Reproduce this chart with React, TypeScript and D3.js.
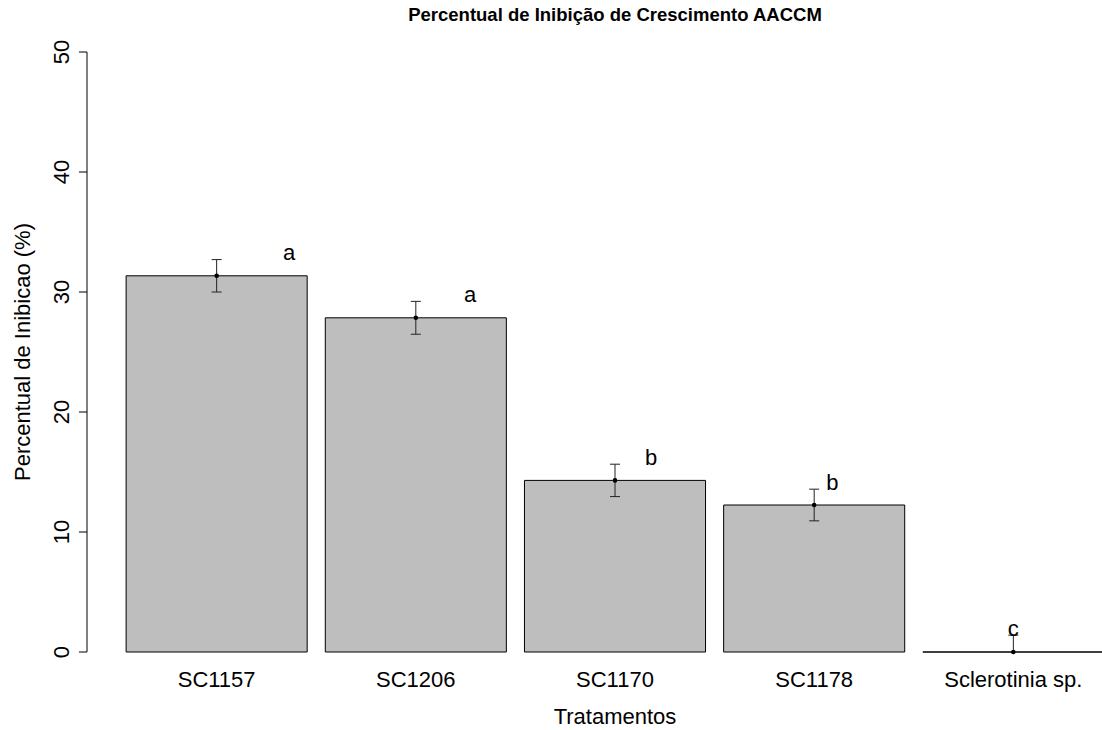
import React from "react";
import * as d3 from "d3";

// Treatments and their mean growth inhibition (%) with standard error
const treatments = ["SC1157", "SC1206", "SC1170", "SC1178", "Sclerotinia sp."];
const means = [31.35, 27.85, 14.3, 12.25, 0];
const errors = [1.35, 1.37, 1.35, 1.32, 1.4];
const groups = ["a", "a", "b", "b", "c"];
const yTicks = [0, 10, 20, 30, 40, 50];

const W = 1102;
const H = 730;
const FONT = "'Liberation Sans', Arial, Helvetica, sans-serif";

export default function App() {
  // Bar geometry in barplot units: width 1, space 0.1
  const barW = 1;
  const space = 0.1;
  const lefts = means.map((_, i) => space + i * (barW + space));
  const xMin = lefts[0];
  const xMax = lefts[lefts.length - 1] + barW;
  const pad = (xMax - xMin) * 0.04;

  const x = d3.scaleLinear().domain([xMin - pad, xMax + pad]).range([87, 1143]);
  const y = d3.scaleLinear().domain([0, 50]).range([652, 52]);

  const plotLeft = 87;
  const plotRight = 1143;
  const plotCx = (plotLeft + plotRight) / 2;

  const barPath = (i: number) => {
    const p = d3.path();
    const x0 = x(lefts[i]);
    const x1 = x(lefts[i] + barW);
    const y0 = y(0);
    const y1 = y(means[i]);
    p.moveTo(x0, y0);
    p.lineTo(x1, y0);
    p.lineTo(x1, y1);
    p.lineTo(x0, y1);
    p.closePath();
    return p.toString();
  };

  return (
    <svg
      width={W}
      height={H}
      style={{ position: "absolute", left: 0, top: 0, background: "#fff" }}
      fontFamily={FONT}
    >
      <defs>
        <clipPath id="plotclip">
          <rect x={plotLeft} y={y(50)} width={plotRight - plotLeft} height={y(0) - y(50)} />
        </clipPath>
      </defs>
      <rect x={0} y={0} width={W} height={H} fill="#fff" />

      <text x={plotCx} y={21} textAnchor="middle" fontSize={18.5} fontWeight="bold" fill="#000">
        Percentual de Inibição de Crescimento AACCM
      </text>

      {/* bars */}
      {means.map((m, i) => (
        <path key={"bar" + i} d={barPath(i)} fill="#bebebe" stroke="#000" strokeWidth={1} />
      ))}

      {/* error bars */}
      <g clipPath="url(#plotclip)">
        {means.map((m, i) => {
          const cx = x(lefts[i] + barW / 2);
          const top = y(m + errors[i]);
          const bot = y(m - errors[i]);
          return (
            <g key={"err" + i} stroke="#222" strokeWidth={1}>
              <line x1={cx} x2={cx} y1={top} y2={bot} />
              <line x1={cx - 5} x2={cx + 5} y1={top} y2={top} />
              <line x1={cx - 5} x2={cx + 5} y1={bot} y2={bot} />
            </g>
          );
        })}
      </g>
      {means.map((m, i) => (
        <circle key={"pt" + i} cx={x(lefts[i] + barW / 2)} cy={y(m)} r={2.3} fill="#000" />
      ))}

      {/* significance letters */}
      {groups.map((g, i) => (
        <text
          key={"lt" + i}
          x={x(i + 1)}
          y={y(means[i] + errors[i] + 0.6)}
          dy="0.35em"
          textAnchor="middle"
          fontSize={22}
          fill="#000"
        >
          {g}
        </text>
      ))}

      {/* y axis */}
      <line x1={plotLeft} x2={plotLeft} y1={y(0)} y2={y(50)} stroke="#000" />
      {yTicks.map((t) => (
        <g key={"yt" + t}>
          <line x1={plotLeft - 8} x2={plotLeft} y1={y(t)} y2={y(t)} stroke="#000" />
          <text
            transform={`translate(${plotLeft - 18},${y(t)}) rotate(-90)`}
            textAnchor="middle"
            fontSize={22}
            fill="#000"
          >
            {t}
          </text>
        </g>
      ))}

      {/* x labels */}
      {treatments.map((t, i) => (
        <text
          key={"xl" + i}
          x={x(lefts[i] + barW / 2)}
          y={687}
          textAnchor="middle"
          fontSize={22}
          fill="#000"
        >
          {t}
        </text>
      ))}

      <text x={plotCx} y={724} textAnchor="middle" fontSize={22} fill="#000">
        Tratamentos
      </text>
      <text
        transform={`translate(30,${(y(0) + y(50)) / 2}) rotate(-90)`}
        textAnchor="middle"
        fontSize={22}
        fill="#000"
      >
        Percentual de Inibicao (%)
      </text>
    </svg>
  );
}
